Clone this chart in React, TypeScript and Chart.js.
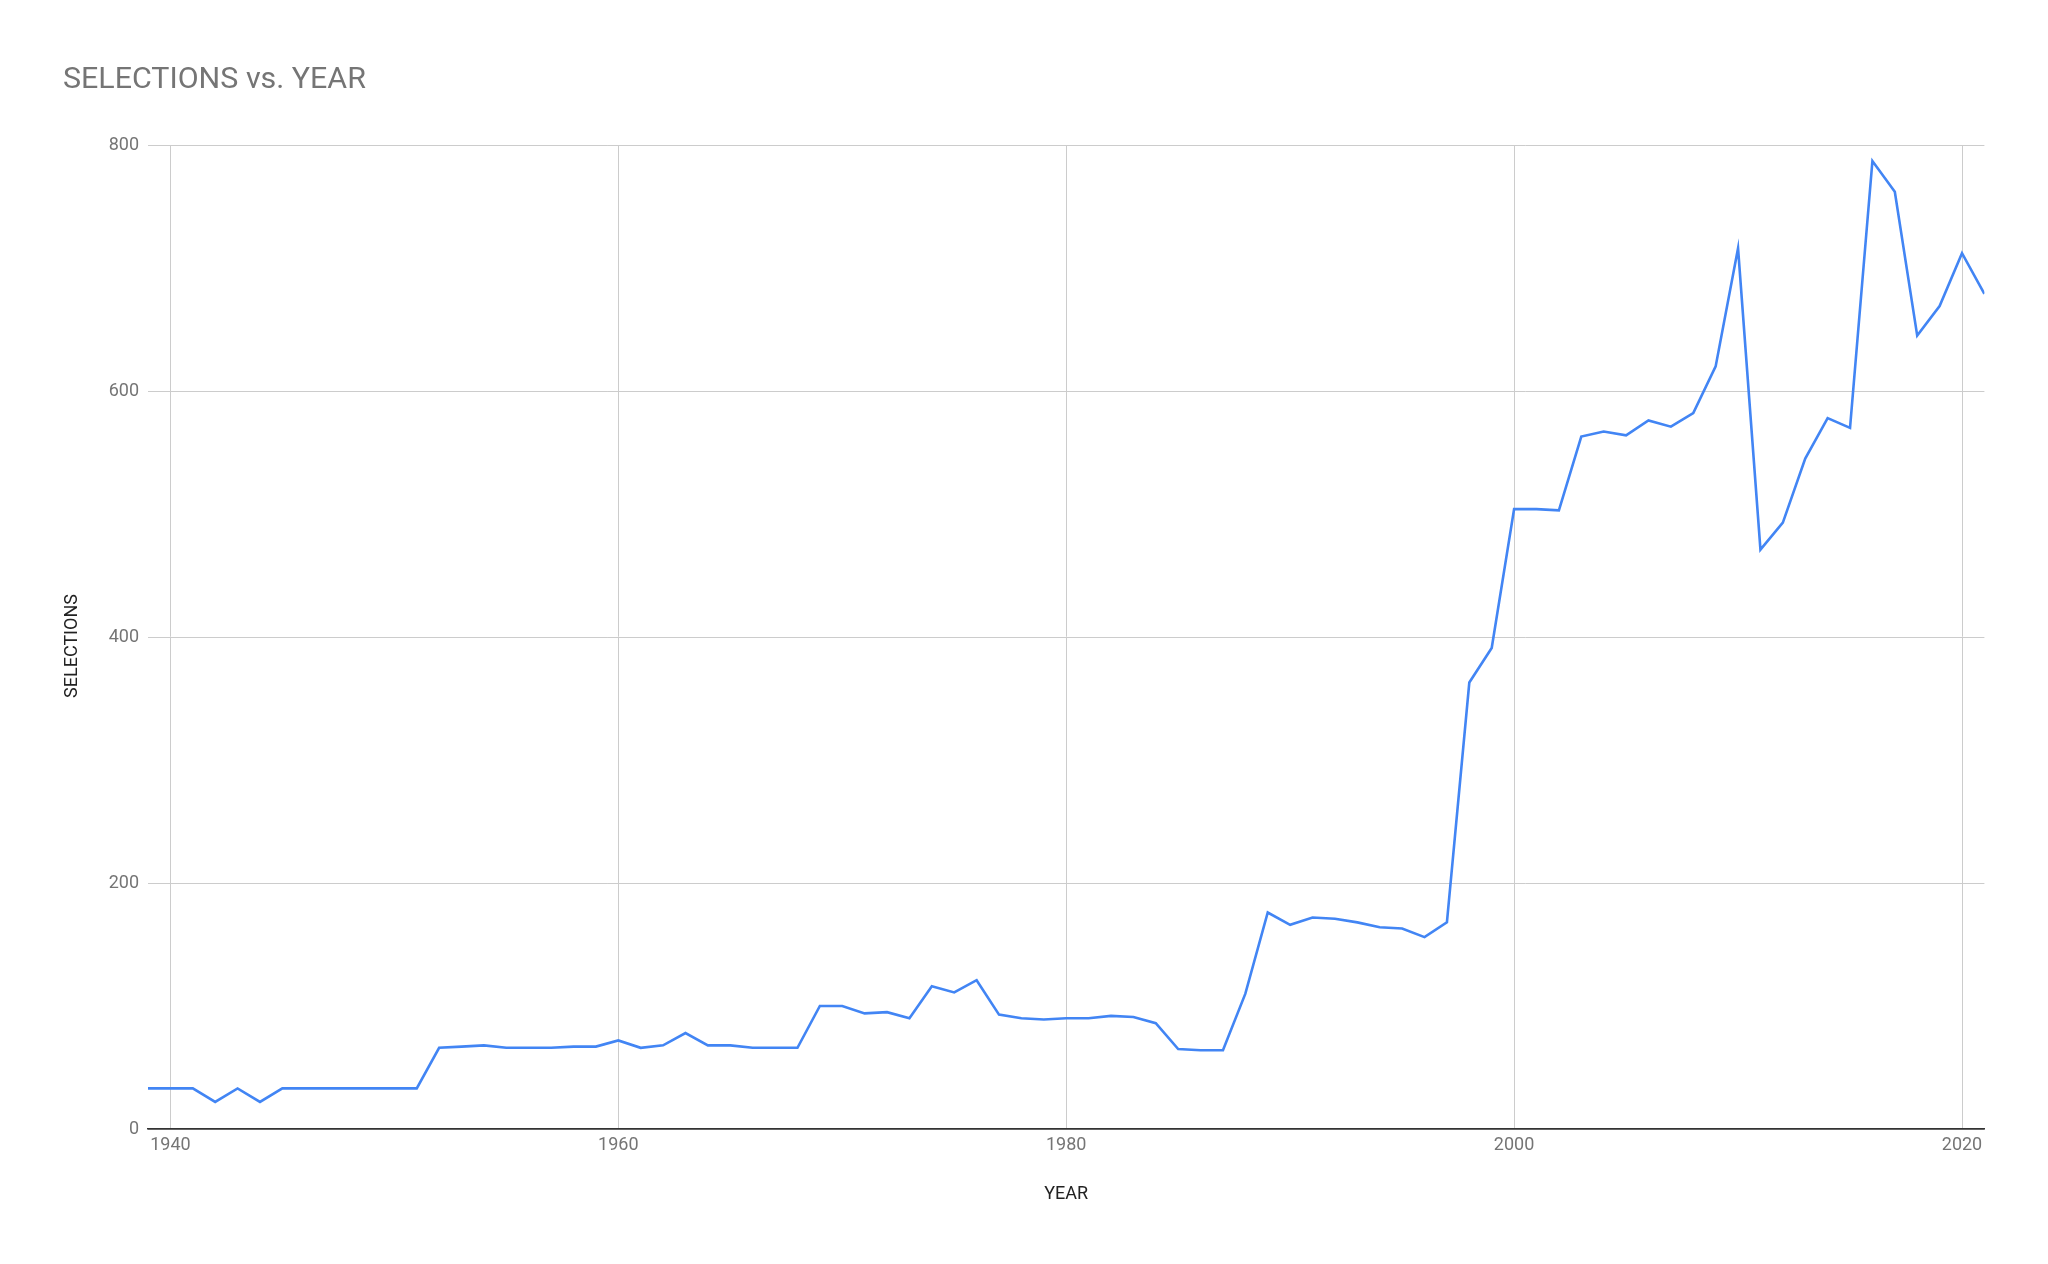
import React, { useEffect, useRef } from "react";
import { Chart, registerables } from "chart.js";

Chart.register(...registerables);

const TITLE = "SELECTIONS vs. YEAR";
const X_TITLE = "YEAR";
const Y_TITLE = "SELECTIONS";

const YEARS = [
  1939, 1940, 1941, 1942, 1943, 1944, 1945, 1946, 1947, 1948,
  1949, 1950, 1951, 1952, 1953, 1954, 1955, 1956, 1957, 1958,
  1959, 1960, 1961, 1962, 1963, 1964, 1965, 1966, 1967, 1968,
  1969, 1970, 1971, 1972, 1973, 1974, 1975, 1976, 1977, 1978,
  1979, 1980, 1981, 1982, 1983, 1984, 1985, 1986, 1987, 1988,
  1989, 1990, 1991, 1992, 1993, 1994, 1995, 1996, 1997, 1998,
  1999, 2000, 2001, 2002, 2003, 2004, 2005, 2006, 2007, 2008,
  2009, 2010, 2011, 2012, 2013, 2014, 2015, 2016, 2017, 2018,
  2019, 2020, 2021,
];

const SELECTIONS = [
  33, 33, 33, 22, 33, 22, 33, 33, 33, 33,
  33, 33, 33, 66, 67, 68, 66, 66, 66, 67,
  67, 72, 66, 68, 78, 68, 68, 66, 66, 66,
  100, 100, 94, 95, 90, 116, 111, 121, 93, 90,
  89, 90, 90, 92, 91, 86, 65, 64, 64, 110,
  176, 166, 172, 171, 168, 164, 163, 156, 168, 363,
  391, 504, 504, 503, 563, 567, 564, 576, 571, 582,
  620, 716, 471, 493, 545, 578, 570, 787, 762, 645,
  669, 712, 679,
];

const X_TICKS = [1940, 1960, 1980, 2000, 2020];
const Y_TICKS = [0, 200, 400, 600, 800];
const X_MIN = 1939;
const X_MAX = 2021;
const Y_MIN = 0;
const Y_MAX = 800;

export default function App() {
  const canvasRef = useRef<HTMLCanvasElement | null>(null);

  useEffect(() => {
    const canvas = canvasRef.current;
    if (!canvas) return;
    Chart.defaults.font.family = "Roboto";

    const textPlugin = {
      id: "sheetTexts",
      afterDraw(chart: any) {
        const ctx = chart.ctx;
        ctx.save();
        ctx.font = "30.4px Roboto";
        ctx.fillStyle = "#757575";
        ctx.textAlign = "left";
        ctx.textBaseline = "alphabetic";
        ctx.fillText(TITLE, 63, 88);
        ctx.restore();

        ctx.save();
        ctx.translate(72, 646);
        ctx.rotate(-Math.PI / 2);
        ctx.font = "18px Roboto";
        ctx.fillStyle = "#222222";
        ctx.textAlign = "center";
        ctx.textBaseline = "middle";
        ctx.fillText(Y_TITLE, 0, 0);
        ctx.restore();
      },
    };

    const chart = new Chart(canvas, {
      type: "line",
      data: {
        datasets: [
          {
            label: Y_TITLE,
            data: YEARS.map((y, i) => ({ x: y, y: SELECTIONS[i] })),
            borderColor: "#4285F4",
            backgroundColor: "#4285F4",
            borderWidth: 2.6,
            pointRadius: 0,
            pointHoverRadius: 0,
            tension: 0,
            fill: false,
          },
        ],
      },
      options: {
        responsive: false,
        animation: false,
        devicePixelRatio: 1,
        layout: {
          padding: { left: 0, top: 145, right: 63.6, bottom: 0 },
        },
        plugins: {
          legend: { display: false },
          title: { display: false },
          tooltip: { enabled: false },
        },
        scales: {
          x: {
            type: "linear",
            min: X_MIN,
            max: X_MAX,
            afterBuildTicks: (scale: any) => {
              scale.ticks = X_TICKS.map((v) => ({ value: v }));
            },
            afterFit: (scale: any) => {
              scale.height = 135;
            },
            ticks: {
              color: "#757575",
              font: { size: 18 },
              padding: 6,
              maxRotation: 0,
              autoSkip: false,
              callback: (v: any) => String(v),
            },
            grid: {
              color: "#cccccc",
              lineWidth: 1,
              drawTicks: false,
            },
            border: { display: true, color: "#333333", width: 1.5 },
            title: {
              display: true,
              text: X_TITLE,
              color: "#222222",
              font: { size: 18 },
              padding: { top: 0, bottom: 59 },
            },
          },
          y: {
            type: "linear",
            min: Y_MIN,
            max: Y_MAX,
            afterBuildTicks: (scale: any) => {
              scale.ticks = Y_TICKS.map((v) => ({ value: v }));
            },
            afterFit: (scale: any) => {
              scale.width = 148;
            },
            ticks: {
              color: "#757575",
              font: { size: 18 },
              padding: 9,
              callback: (v: any) => String(v),
            },
            grid: {
              color: (c: any) => (c.tick && c.tick.value === 0 ? "#333333" : "#cccccc"),
              lineWidth: (c: any) => (c.tick && c.tick.value === 0 ? 1.5 : 1),
              drawTicks: false,
            },
            border: { display: false },
            title: { display: false },
          },
        },
      },
      plugins: [textPlugin],
    });

    return () => {
      chart.destroy();
    };
  }, []);

  return (
    <div
      style={{
        position: "fixed",
        left: 0,
        top: 0,
        width: 2048,
        height: 1264,
        background: "#ffffff",
      }}
    >
      <canvas
        ref={canvasRef}
        width={2048}
        height={1264}
        style={{ display: "block", width: 2048, height: 1264 }}
      />
    </div>
  );
}
